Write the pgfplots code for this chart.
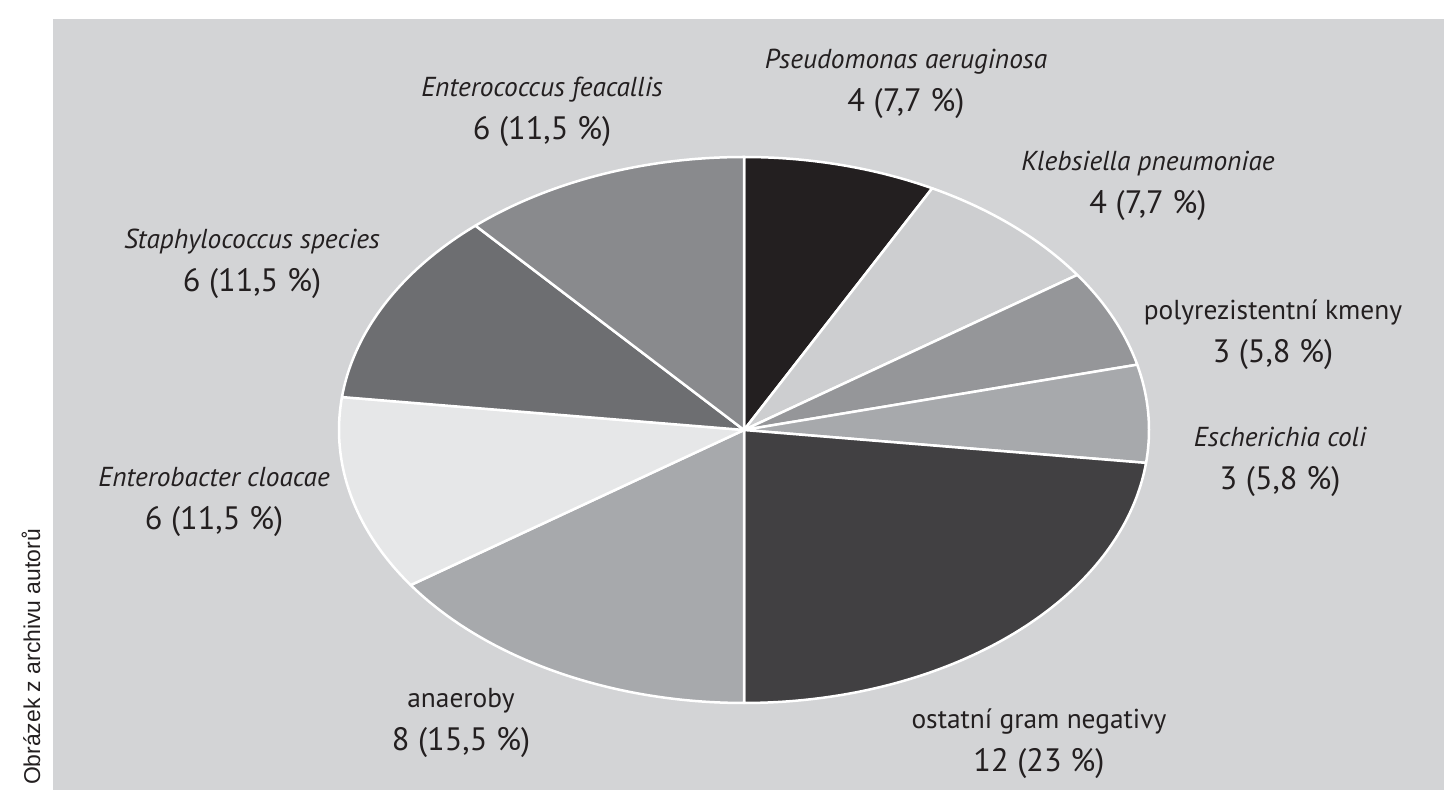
\documentclass[border=0pt]{standalone}
\usepackage{fontspec}
\setmainfont{PT Sans}
\newfontfamily\capfont{Liberation Sans}
\usepackage{pgfplots}
\pgfplotsset{compat=1.18}

\definecolor{bg}{HTML}{D3D4D6}
\definecolor{txt}{HTML}{231F20}
\definecolor{cPseudo}{HTML}{231F20}
\definecolor{cKleb}{HTML}{CDCED0}
\definecolor{cPoly}{HTML}{959699}
\definecolor{cEsch}{HTML}{A7A9AC}
\definecolor{cOst}{HTML}{414042}
\definecolor{cAnae}{HTML}{A7A9AC}
\definecolor{cEntb}{HTML}{E6E7E8}
\definecolor{cStaph}{HTML}{6D6E71}
\definecolor{cEntc}{HTML}{898A8D}

% pie: centre (744,370), radii 405 x 273 (picture units), total 52 isolates
% \slice{cumulative count before}{count}{colour}
\newcommand{\slice}[3]{%
  \pgfmathsetmacro{\angA}{90-(#1+#2)/52*360}%
  \pgfmathsetmacro{\angB}{90-#1/52*360}%
  \edef\temp{\noexpand\addplot[fill=#3, draw=white, line width=2.5bp,
    line join=round, domain=\angA:\angB, samples=90]
    ({744+405*cos(x)},{370+273*sin(x)}) -- (axis cs:744,370) -- cycle;}%
  \temp}

\tikzset{lbl/.style={text=txt, align=center, yshift=-3bp,
    font=\fontsize{27.5}{43}\selectfont}}
\newcommand{\num}[1]{{\fontsize{32.5}{43}\selectfont #1}}

\begin{document}
\begin{tikzpicture}
  \begin{axis}[
      width=1391bp, height=771bp, scale only axis,
      at={(53bp,10bp)}, anchor=origin,
      xmin=53, xmax=1444, ymin=10, ymax=781,
      axis line style={draw=none}, ticks=none,
      axis background/.style={fill=bg},
      clip=false]

    \slice{0}{4}{cPseudo}
    \slice{4}{4}{cKleb}
    \slice{8}{3}{cPoly}
    \slice{11}{3}{cEsch}
    \slice{14}{12}{cOst}
    \slice{26}{8}{cAnae}
    \slice{34}{6}{cEntb}
    \slice{40}{6}{cStaph}
    \slice{46}{6}{cEntc}

    \node[lbl] at (axis cs:906,719) {\itshape Pseudomonas aeruginosa\\\num{4 (7,7 \%)}};
    \node[lbl] at (axis cs:1148,617) {\itshape Klebsiella pneumoniae\\\num{4 (7,7 \%)}};
    \node[lbl] at (axis cs:1273,468) {polyrezistentní kmeny\\\num{3 (5,8 \%)}};
    \node[lbl] at (axis cs:1280,341) {\itshape Escherichia coli\\\num{3 (5,8 \%)}};
    \node[lbl] at (axis cs:1039,59) {ostatní gram negativy\\\num{12 (23 \%)}};
    \node[lbl] at (axis cs:461,80) {anaeroby\\\num{8 (15,5 \%)}};
    \node[lbl] at (axis cs:214,301) {\itshape Enterobacter cloacae\\\num{6 (11,5 \%)}};
    \node[lbl] at (axis cs:252,539) {\itshape Staphylococcus species\\\num{6 (11,5 \%)}};
    \node[lbl] at (axis cs:542,691) {\itshape Enterococcus feacallis\\\num{6 (11,5 \%)}};

    \node[rotate=90, text=txt, font=\capfont\fontsize{23}{26}\selectfont]
      at (axis cs:31,143) {Obrázek z archivu autorů};

    \path (axis cs:0,0) (axis cs:1450,800);
  \end{axis}
\end{tikzpicture}
\end{document}
